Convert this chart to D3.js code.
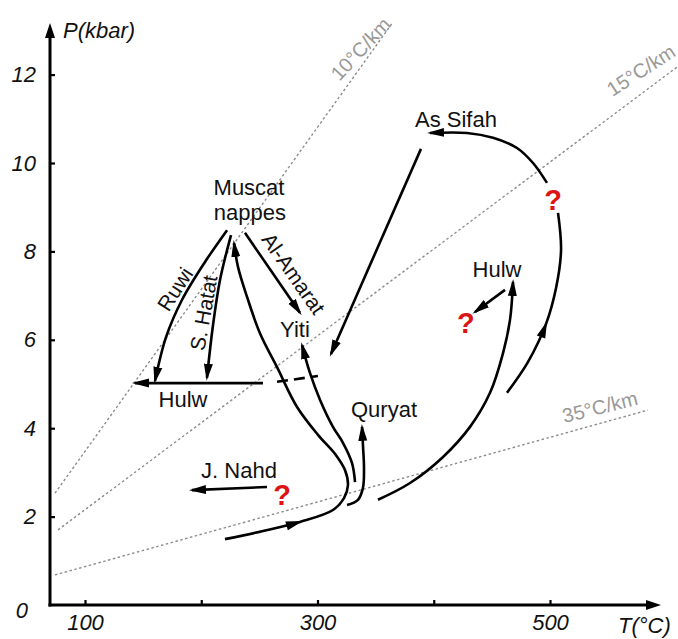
<!DOCTYPE html>
<html><head><meta charset="utf-8">
<script src="https://cdn.jsdelivr.net/npm/d3@7"></script>
<style>
html,body{margin:0;padding:0;background:#fff;}
svg{display:block;}
</style></head><body>
<svg id="chart" width="678" height="639"></svg>
<script>
// ---------- data ----------
const xTicks = [100, 200, 300, 400, 500];
const xTickLabels = ["100", "", "300", "", "500"];
const yTicks = [0, 2, 4, 6, 8, 10, 12];
const yTickLabels = ["0", "2", "4", "6", "8", "10", "12"];
const xAxisTitle = "T(°C)";
const yAxisTitle = "P(kbar)";

const geothermNames = ["10°C/km", "15°C/km", "35°C/km"];
const geothermLines = [
  [[74.2, 2.53], [365.0, 13.19]],
  [[76.8, 1.70], [609.3, 12.17]],
  [[74.2, 0.68], [584.3, 4.41]]
];
const geothermLabelAt = [[337.0, 12.58], [578.3, 12.10], [543.0, 4.48]];

// P-T paths [T (°C), P (kbar)]
const pathRuwi = [[222.2, 8.48], [203.2, 7.76], [183.4, 6.90], [169.7, 6.06], [160.2, 5.07]];
const pathHatat = [[225.6, 8.37], [216.1, 7.35], [210.1, 6.33], [204.9, 5.14]];
const pathAmarat = [[237.6, 8.42], [284.9, 6.61]];
const pathHulwLeft = [[253.1, 5.02], [143.0, 5.02]];
const pathHulwDashed = [[265.2, 5.05], [300.4, 5.18]];
const pathLoop = [[220.4, 1.49], [252.3, 1.67], [284.9, 1.88], [313.3, 2.15], [322.8, 2.42], [326.2, 2.71],
  [323.7, 3.05], [315.9, 3.39], [300.4, 3.85], [282.4, 4.48], [265.2, 5.38], [250.5, 6.15],
  [239.4, 6.97], [231.6, 7.65], [228.2, 8.19]];
const pathYiti = [[332.3, 2.78], [329.7, 3.21], [321.9, 3.67], [313.3, 4.03], [302.2, 4.64], [293.5, 5.25], [286.7, 5.88]];
const pathQuryat = [[325.4, 2.26], [334.8, 2.38], [339.1, 2.65], [340.0, 3.10], [339.1, 3.62], [338.3, 4.03]];
const pathAsSifah = [[389.0, 10.32], [311.6, 5.68]];
const pathHulwRight = [[352.0, 2.38], [379.6, 2.76], [408.0, 3.35], [431.2, 4.03], [448.4, 4.80], [459.6, 5.70], [465.6, 6.45], [468.2, 7.31]];
const pathOuterLow = [[463.0, 4.80], [481.1, 5.50], [496.6, 6.36], [505.2, 7.17], [509.5, 8.03], [506.9, 8.87]];
const pathOuterHigh = [[497.4, 9.55], [485.4, 10.0], [471.6, 10.34], [451.0, 10.57], [428.6, 10.68], [396.8, 10.68]];
const pathHulwSmall = [[461.3, 7.13], [435.5, 6.63]];
const pathNahd = [[256.6, 2.67], [192.0, 2.60]];

// labels [text, T, P]
const siteLabels = [
  ["Muscat", 241.1, 9.28], ["nappes", 241.9, 8.71], ["As Sifah", 419.1, 10.81],
  ["Hulw", 454.4, 7.42], ["Yiti", 280.6, 6.06], ["Hulw", 184.3, 4.48],
  ["J. Nahd", 232.5, 2.87], ["Quryat", 357.2, 4.25]
];
const pathLabels = [["Ruwi", 177.4, 7.15], ["S. Hatat", 202.0, 6.61], ["Al-Amarat", 279.5, 7.50]];
const questionMarks = [[502.6, 8.94], [427.7, 6.15], [269.5, 2.26]];

// ---------- drawing ----------
const svg = d3.select("#chart");
const x = d3.scaleLinear().domain([100, 500]).range([85, 550]);
const y = d3.scaleLinear().domain([0, 12]).range([605, 74.6]);
const FONT = "'Liberation Sans', Arial, Helvetica, sans-serif";

const defs = svg.append("defs");
defs.append("marker").attr("id", "ah").attr("markerUnits", "userSpaceOnUse")
  .attr("viewBox", "0 -6 18 12").attr("markerWidth", 18).attr("markerHeight", 12)
  .attr("refX", 14).attr("refY", 0).attr("orient", "auto")
  .append("path").attr("d", "M0,-4.5L17,0L0,4.5Z").attr("fill", "#000");
defs.append("marker").attr("id", "axah").attr("markerUnits", "userSpaceOnUse")
  .attr("viewBox", "0 -6 16 12").attr("markerWidth", 16).attr("markerHeight", 12)
  .attr("refX", 2).attr("refY", 0).attr("orient", "auto")
  .append("path").attr("d", "M0,-5L15,0L0,5Z").attr("fill", "#000");

// geotherms
const straight = d3.line().x(d => x(d[0])).y(d => y(d[1]));
const gG = svg.append("g");
geothermLines.forEach((ln, i) => {
  gG.append("path").attr("d", straight(ln)).attr("fill", "none")
    .attr("stroke", "#8c8c8c").attr("stroke-width", 1.4).attr("stroke-dasharray", "2.5,2.5");
});
const geoAngles = [-47, -33, -14];
geothermNames.forEach((t, i) => {
  const p = geothermLabelAt[i];
  gG.append("text").text(t)
    .attr("transform", `translate(${x(p[0])},${y(p[1])}) rotate(${geoAngles[i]})`)
    .attr("text-anchor", "middle").attr("dominant-baseline", "central")
    .attr("font-family", FONT).attr("font-size", 20).attr("fill", "#999");
});

// axes
const xAxis = d3.axisBottom(x).tickValues(xTicks).tickSize(-5).tickPadding(9)
  .tickFormat((d, i) => xTickLabels[i]);
const yAxis = d3.axisLeft(y).tickValues(yTicks).tickSize(-5).tickPadding(14)
  .tickFormat((d, i) => yTickLabels[i]);
const gx = svg.append("g").attr("transform", "translate(0,605)").call(xAxis);
const gy = svg.append("g").attr("transform", "translate(50,0)").call(yAxis);
[gx, gy].forEach(g => {
  g.select(".domain").remove();
  g.selectAll(".tick line").attr("stroke", "#000").attr("stroke-width", 2.2);
  g.selectAll(".tick text").attr("font-family", FONT).attr("font-size", 22)
    .attr("font-style", "italic").attr("fill", "#111");
});
gy.selectAll(".tick").filter(d => d === 0).select("line").remove();
gy.selectAll(".tick").filter(d => d === 0).select("text").attr("x", -22).attr("dy", "0.55em");

svg.append("line").attr("x1", 50).attr("y1", 606.5).attr("x2", 50).attr("y2", 36)
  .attr("stroke", "#000").attr("stroke-width", 3).attr("marker-end", "url(#axah)");
svg.append("line").attr("x1", 48.5).attr("y1", 605).attr("x2", 648).attr("y2", 605)
  .attr("stroke", "#000").attr("stroke-width", 3).attr("marker-end", "url(#axah)");
svg.append("text").text(yAxisTitle).attr("x", 63).attr("y", 38)
  .attr("font-family", FONT).attr("font-size", 22).attr("font-style", "italic").attr("fill", "#111");
svg.append("text").text(xAxisTitle).attr("x", 618).attr("y", 633)
  .attr("font-family", FONT).attr("font-size", 22).attr("font-style", "italic").attr("fill", "#111");

// paths
const curve = d3.line().x(d => x(d[0])).y(d => y(d[1])).curve(d3.curveCatmullRom.alpha(0.5));
const pG = svg.append("g");
function drawPath(pts, opts = {}) {
  const p = pG.append("path").attr("d", pts.length > 2 ? curve(pts) : straight(pts))
    .attr("fill", "none").attr("stroke", "#000").attr("stroke-width", opts.w || 2.6)
    .attr("stroke-linecap", "butt");
  if (opts.end !== false) p.attr("marker-end", "url(#ah)");
  if (opts.dash) p.attr("stroke-dasharray", opts.dash);
  if (opts.mid !== undefined) {
    const node = p.node();
    const tx = x(pts[opts.mid][0]), ty = y(pts[opts.mid][1]);
    const len = node.getTotalLength();
    let best = 0, bd = 1e12;
    for (let l = 0; l <= len; l += 0.5) {
      const q = node.getPointAtLength(l);
      const d = (q.x - tx) ** 2 + (q.y - ty) ** 2;
      if (d < bd) { bd = d; best = l; }
    }
    const a = node.getPointAtLength(best), b = node.getPointAtLength(Math.max(0, best - 3));
    const ang = Math.atan2(a.y - b.y, a.x - b.x) * 180 / Math.PI;
    pG.append("path").attr("d", "M-14,-4.5L3,0L-14,4.5Z")
      .attr("transform", `translate(${a.x},${a.y}) rotate(${ang})`).attr("fill", "#000");
  }
  return p;
}
drawPath(pathRuwi);
drawPath(pathHatat);
drawPath(pathAmarat);
drawPath(pathHulwLeft);
drawPath(pathHulwDashed, { end: false, dash: "11,6" });
drawPath(pathLoop, { mid: 2 });
drawPath(pathYiti);
drawPath(pathQuryat);
drawPath(pathAsSifah);
drawPath(pathHulwRight);
drawPath(pathOuterLow, { end: false, mid: 2 });
drawPath(pathOuterHigh);
drawPath(pathHulwSmall);
drawPath(pathNahd);

// labels
const lG = svg.append("g").attr("font-family", FONT).attr("fill", "#111");
siteLabels.forEach(d => {
  lG.append("text").text(d[0]).attr("x", x(d[1])).attr("y", y(d[2]))
    .attr("text-anchor", "middle").attr("font-size", 22);
});
const pathLabelAngles = [-57, -80, 55];
pathLabels.forEach((d, i) => {
  lG.append("text").text(d[0])
    .attr("transform", `translate(${x(d[1])},${y(d[2])}) rotate(${pathLabelAngles[i]})`)
    .attr("text-anchor", "middle").attr("dominant-baseline", "central").attr("font-size", 21);
});
questionMarks.forEach(d => {
  svg.append("text").text("?").attr("x", x(d[0])).attr("y", y(d[1]))
    .attr("text-anchor", "middle").attr("font-family", FONT).attr("font-weight", "bold")
    .attr("font-size", 29).attr("fill", "#dd1414");
});
</script>
</body></html>
